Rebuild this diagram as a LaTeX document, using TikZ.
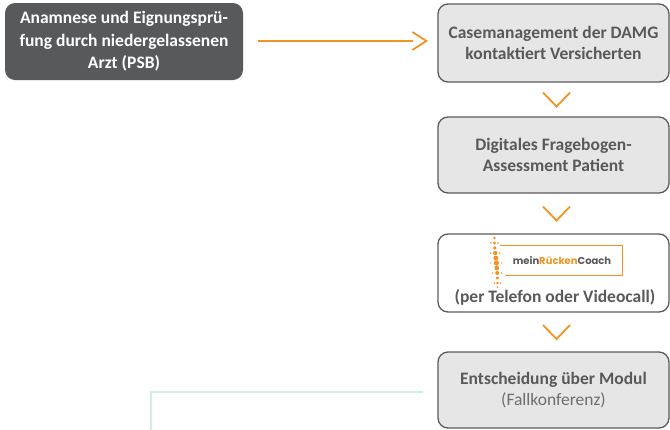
\documentclass[tikz,border=0pt]{standalone}
\usepackage{fontspec}
\setmainfont{Carlito}
\newfontfamily\logofont{Poppins}
\usetikzlibrary{calc}
\definecolor{darkbox}{HTML}{58595B}
\definecolor{boxfill}{HTML}{E6E6E6}
\definecolor{boxline}{HTML}{5B5B5B}
\definecolor{boxtext}{HTML}{595959}
\definecolor{subtext}{HTML}{6E6E6E}
\definecolor{orng}{HTML}{F39323}
\definecolor{teal}{HTML}{D3ECE4}
\tikzset{
  darkstep/.style={draw=none, fill=darkbox, rounded corners=10pt, text=white, font=\fontsize{17.5}{22.5}\selectfont\bfseries, align=center, inner sep=0pt},
  graystep/.style={draw=boxline, line width=1.3pt, fill=boxfill, rounded corners=10pt, text=boxtext, font=\fontsize{17.5}{21.5}\selectfont\bfseries, align=center, inner sep=0pt, minimum width=231pt},
  whitestep/.style={graystep, fill=white},
  chev/.style={draw=orng, line width=1.8pt},
  flowline/.style={draw=orng, line width=1.8pt},
  tealline/.style={draw=teal, line width=2.2pt},
}
\begin{document}
\begin{tikzpicture}[x=1pt,y=-1pt]
\useasboundingbox (0,0) rectangle (670,429);
\node[darkstep, minimum width=238pt, minimum height=77pt] (a) at (124,41.5) {Anamnese und Eignungsprü-\\fung durch niedergelassenen\\Arzt (PSB)};
\node[graystep, minimum height=78pt] (b1) at (553.5,43) {Casemanagement der DAMG\\kontaktiert Versicherten};
\node[graystep, minimum height=76pt] (b2) at (553.5,155) {Digitales Fragebogen-\\Assessment Patient};
\node[whitestep, minimum height=78pt] (b3) at (553.5,273) {};
\node[graystep, minimum height=76pt] (b4) at (553.5,390) {Entscheidung über Modul\\{\mdseries\color{subtext}(Fallkonferenz)}};
% logo
\node[font=\fontsize{17.5}{20}\selectfont\bfseries, text=boxtext, inner sep=0pt] (b3t) at (555,297) {(per Telefon oder Videocall)};
\draw[orng, line width=1pt] (500,245) -- (622,245) -- (622,275) -- (505,275);
\node[font=\logofont\fontsize{10}{12}\selectfont\bfseries, inner sep=0pt] (logo) at (562,261) {\textcolor{boxtext}{mein}\textcolor{orng}{Rücken}\textcolor{boxtext}{Coach}};
\foreach \yy/\xx/\r in {238/494.5/1.3, 243/494.5/1.6, 248/494.8/1.9, 253/495.2/2.2, 258/495.8/2.5, 263/496.4/2.6, 268/496.8/2.4, 273/497.2/2.0, 278/497.4/1.7, 283/497.5/1.4, 287/497.5/1.0}
  \fill[orng] (\xx,\yy) circle (\r);
\foreach \yy/\xx/\w in {243/494.5/3.5, 253/495.2/4.5, 263/496.4/5.5, 273/497.2/4.5, 283/497.5/3}{
  \fill[orng] (\xx-\w,\yy) circle (0.8);
  \fill[orng] (\xx+\w,\yy) circle (0.8);
}
% connectors
\coordinate (ae) at ($(a.east)+(15,-0.5)$);
\coordinate (tip) at ($(b1.west)+(-11,-2)$);
\draw[flowline] (ae) -- ($(tip)+(-13,0)$);
\draw[chev] ($(tip)+(-14,-9)$) -- (tip) -- ($(tip)+(-14,9)$);
\foreach \s/\t in {b1/b2, b2/b3, b3/b4}{
  \coordinate (m) at ($(\s.south)!0.5!(\t.north)+(3,0)$);
  \draw[chev] ($(m)+(-13.5,-7)$) -- ($(m)+(0,7)$) -- ($(m)+(13.5,-7)$);
}
% teal line
\coordinate (t0) at (151,432);
\coordinate (t1) at (151,392);
\coordinate (t2) at (423,392);
\draw[tealline] (t0) -- (t1) -- (t2);
\end{tikzpicture}
\end{document}
